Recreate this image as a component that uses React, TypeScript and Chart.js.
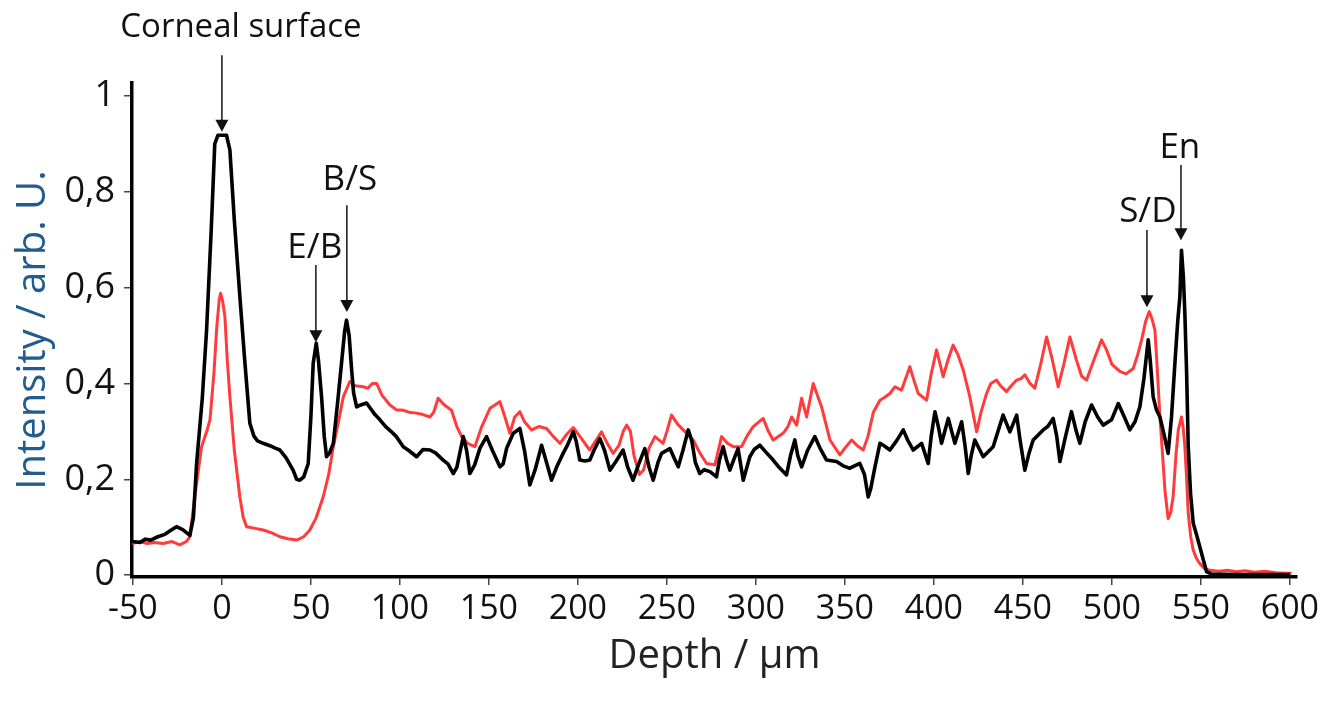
import React, { useEffect, useRef } from "react";
import { Chart, registerables } from "chart.js";

Chart.register(...registerables);

// ---- Data ----
const blackDepth = [
  -50.5, -46, -43, -40, -36, -32, -28, -25.5, -22, -18, -16, -14.2, -11, -8.6, -6, -4, -2.2, 2.6, 4.5, 7,
  10.1, 13, 15.7, 18, 20, 23.2, 27, 30, 32.6, 36, 40, 42, 43.8, 46, 48.5, 50, 51.3, 53, 54.2, 56,
  57.5, 58.8, 60.5, 62.6, 65, 67.2, 69, 70, 71.5, 72.9, 74, 75.7, 78, 81.3, 84, 86, 88.8, 92, 95, 98,
  101.9, 105, 109.4, 113, 116.9, 120, 124.3, 127, 130, 132, 135.6, 137.5, 139.3, 142, 145, 148.7, 152, 156.2, 158, 160,
  163.7, 167.4, 170, 173, 176, 179.6, 182, 185.2, 188, 191.7, 194, 197.4, 199, 201.1, 204, 206.7, 209, 212.4, 215, 218,
  221, 225.4, 228, 231, 234, 237.6, 240, 242.3, 245, 247, 251.7, 254, 256.4, 259, 262, 264, 266, 268.5, 271, 274.2,
  277.9, 279.5, 281.6, 283.5, 285.4, 288, 290, 292.9, 296.6, 299, 302.2, 306, 309.7, 313, 317.2, 319.5, 321.9, 323.5, 325.7, 329,
  333.1, 336, 339.7, 345.3, 349, 352.8, 358.4, 361, 363.1, 364.5, 366.9, 369.7, 372, 375.3, 379, 382.8, 385.5, 388.4, 393.1, 396.8,
  398.5, 400.6, 402.5, 404.3, 408.1, 410, 411.8, 415.6, 417.5, 419.3, 421, 423, 427.7, 433.3, 436, 438.9, 442.7, 446.5, 448.5, 451.1,
  453.5, 455.8, 461.4, 464, 467, 469, 470.8, 474, 477.3, 480, 482, 485, 488.6, 492, 495.1, 499.8, 503.6, 507, 510.1, 513,
  515.7, 518, 520.4, 521.5, 523.2, 525, 527, 529.5, 531.6, 533.5, 535.4, 537, 538.2, 539.1, 540.2, 541, 542, 542.9, 544.2, 545.7,
  547.5, 549.4, 551.5, 553.2, 556, 570, 585, 600,
];
const blackIntensity = [
  0.07, 0.068, 0.075, 0.073, 0.08, 0.085, 0.095, 0.101, 0.095, 0.083, 0.12, 0.233, 0.37, 0.511, 0.72, 0.9, 0.918, 0.918, 0.887, 0.74,
  0.581, 0.44, 0.317, 0.29, 0.28, 0.275, 0.27, 0.265, 0.261, 0.245, 0.219, 0.2, 0.198, 0.205, 0.233, 0.33, 0.442, 0.484, 0.45, 0.372,
  0.29, 0.247, 0.255, 0.275, 0.36, 0.442, 0.51, 0.532, 0.5, 0.428, 0.38, 0.351, 0.355, 0.359, 0.345, 0.335, 0.324, 0.31, 0.3, 0.289,
  0.268, 0.26, 0.247, 0.262, 0.261, 0.255, 0.24, 0.232, 0.212, 0.225, 0.289, 0.26, 0.212, 0.23, 0.265, 0.289, 0.26, 0.226, 0.232, 0.265,
  0.296, 0.306, 0.26, 0.188, 0.22, 0.271, 0.24, 0.198, 0.225, 0.254, 0.27, 0.299, 0.28, 0.24, 0.238, 0.24, 0.26, 0.285, 0.26, 0.219,
  0.235, 0.261, 0.225, 0.198, 0.23, 0.264, 0.225, 0.198, 0.235, 0.254, 0.264, 0.245, 0.226, 0.26, 0.303, 0.28, 0.235, 0.212, 0.22, 0.216,
  0.205, 0.24, 0.268, 0.24, 0.219, 0.245, 0.264, 0.198, 0.247, 0.262, 0.271, 0.255, 0.24, 0.225, 0.209, 0.25, 0.282, 0.25, 0.226, 0.26,
  0.289, 0.265, 0.24, 0.237, 0.228, 0.223, 0.233, 0.21, 0.163, 0.18, 0.226, 0.275, 0.27, 0.261, 0.28, 0.303, 0.28, 0.261, 0.275, 0.233,
  0.29, 0.341, 0.31, 0.275, 0.327, 0.3, 0.275, 0.32, 0.27, 0.212, 0.25, 0.282, 0.247, 0.268, 0.3, 0.334, 0.299, 0.334, 0.28, 0.219,
  0.255, 0.282, 0.303, 0.31, 0.327, 0.29, 0.237, 0.29, 0.341, 0.3, 0.275, 0.32, 0.355, 0.33, 0.313, 0.324, 0.358, 0.33, 0.303, 0.32,
  0.351, 0.41, 0.491, 0.45, 0.372, 0.345, 0.33, 0.29, 0.254, 0.33, 0.442, 0.53, 0.581, 0.678, 0.62, 0.546, 0.42, 0.268, 0.17, 0.108,
  0.085, 0.059, 0.03, 0.007, 0.002, 0.001, 0.001, 0.001,
];
const redDepth = [
  -50.5, -46, -42, -38, -33, -28, -23.6, -20, -18, -15, -11.4, -8.5, -6.7, -4.5, -3, -1.5, -0.7, 0.5, 1.7, 3,
  4.5, 7, 10.1, 12, 13.9, 18, 23.2, 28, 32.6, 37, 42, 46, 49.4, 53, 56.9, 60, 62.6, 65.5, 68.2, 71.9,
  75, 79.4, 82, 84.5, 86.9, 90, 94.4, 98, 101.9, 105, 109.4, 113, 116.9, 119, 121.5, 125, 129, 132, 134.7, 138,
  142.1, 146, 150.6, 156.2, 159, 161.8, 164.5, 167.4, 170, 174, 178, 182.4, 186, 189.9, 194, 197.4, 201, 206.7, 210, 213.3,
  216.5, 219.8, 223, 225.5, 227.4, 229.5, 231.5, 234.5, 237, 240, 243.3, 247.9, 250, 252.6, 256, 259.2, 264.8, 268.5, 272.3, 277,
  280.7, 284, 287.3, 292, 295, 298.5, 304.1, 307, 309.7, 315.3, 318, 320.1, 322.9, 325.7, 328.5, 332.2, 336.9, 341.6, 347.2, 350,
  353.8, 357, 360.3, 363, 366, 369.7, 372, 375.3, 378.1, 381.8, 386.5, 388.5, 391.2, 395.9, 398.5, 401.5, 403.5, 405.2, 408, 410.8,
  413.5, 416.5, 420.2, 424, 426.5, 429.6, 432, 435.2, 437.5, 440.8, 443.5, 446.5, 449, 451.1, 454, 456.7, 460, 463.3, 466.5, 469.8,
  473, 476.4, 480, 483, 485.8, 490, 494.2, 497, 500, 504.5, 508, 512, 514.5, 516.7, 519, 521, 522.5, 524.2, 525.5, 527,
  528.5, 529.8, 531.6, 533, 534.4, 536, 537.3, 539.1, 540, 541, 542, 542.9, 544.3, 545.7, 547.5, 549.4, 552, 555, 560, 565,
  570, 575, 580, 586, 592, 597.2, 601,
];
const redIntensity = [
  0.066, 0.07, 0.066, 0.068, 0.066, 0.07, 0.063, 0.07, 0.08, 0.17, 0.268, 0.3, 0.324, 0.42, 0.511, 0.575, 0.588, 0.57, 0.539, 0.45,
  0.372, 0.26, 0.163, 0.12, 0.101, 0.098, 0.094, 0.088, 0.08, 0.076, 0.073, 0.08, 0.094, 0.12, 0.163, 0.21, 0.268, 0.32, 0.372, 0.404,
  0.395, 0.393, 0.39, 0.4, 0.4, 0.375, 0.355, 0.345, 0.344, 0.34, 0.338, 0.335, 0.33, 0.34, 0.369, 0.355, 0.344, 0.31, 0.289, 0.275,
  0.268, 0.31, 0.348, 0.362, 0.33, 0.296, 0.33, 0.341, 0.32, 0.303, 0.31, 0.306, 0.29, 0.275, 0.295, 0.308, 0.29, 0.261, 0.28, 0.299,
  0.275, 0.254, 0.27, 0.3, 0.313, 0.3, 0.25, 0.21, 0.22, 0.265, 0.289, 0.275, 0.3, 0.334, 0.315, 0.303, 0.282, 0.255, 0.233, 0.23,
  0.289, 0.275, 0.268, 0.268, 0.29, 0.31, 0.327, 0.3, 0.282, 0.296, 0.31, 0.33, 0.313, 0.369, 0.33, 0.4, 0.351, 0.282, 0.251, 0.265,
  0.282, 0.27, 0.261, 0.29, 0.34, 0.365, 0.37, 0.379, 0.393, 0.386, 0.435, 0.41, 0.379, 0.365, 0.42, 0.47, 0.44, 0.414, 0.45, 0.48,
  0.46, 0.428, 0.372, 0.299, 0.34, 0.379, 0.4, 0.407, 0.395, 0.383, 0.395, 0.407, 0.41, 0.418, 0.4, 0.39, 0.44, 0.497, 0.45, 0.393,
  0.44, 0.497, 0.45, 0.415, 0.407, 0.45, 0.491, 0.47, 0.44, 0.425, 0.42, 0.431, 0.46, 0.491, 0.53, 0.55, 0.535, 0.511, 0.43, 0.33,
  0.25, 0.177, 0.118, 0.13, 0.163, 0.25, 0.303, 0.33, 0.31, 0.268, 0.2, 0.129, 0.08, 0.052, 0.035, 0.024, 0.014, 0.01, 0.008, 0.01,
  0.007, 0.009, 0.006, 0.008, 0.005, 0.004, 0.004,
];

const xTickValues = [-50, 0, 50, 100, 150, 200, 250, 300, 350, 400, 450, 500, 550, 600];
const yTickValues = [0, 0.2, 0.4, 0.6, 0.8, 1];
const yTickLabels = ["0", "0,2", "0,4", "0,6", "0,8", "1"];

// Annotation arrows: label, arrow depth, arrow tip / tail intensity, label depth / intensity
const annotationLabels = ["Corneal surface", "E/B", "B/S", "S/D", "En"];
const annotationDepths = [0, 52.8, 70.2, 519.7, 538.8];
const annotationTips = [0.925, 0.486, 0.549, 0.559, 0.699];
const annotationTails = [1.085, 0.647, 0.772, 0.72, 0.856];
const annotationLabelDepths = [10.7, 52.2, 71.9, 520.2, 538.2];
const annotationLabelValues = [1.142, 0.683, 0.824, 0.758, 0.891];

const FONT = '"Open Sans", "Noto Sans", sans-serif';

const arrowPlugin = {
  id: "arrowAnnotations",
  afterDraw(chart: any) {
    const { ctx } = chart;
    const xs = chart.scales.x;
    const ys = chart.scales.y;
    ctx.save();
    annotationLabels.forEach((label, i) => {
      const px = xs.getPixelForValue(annotationDepths[i]);
      const tip = ys.getPixelForValue(annotationTips[i]);
      const tail = ys.getPixelForValue(annotationTails[i]);
      ctx.strokeStyle = "#222";
      ctx.lineWidth = 1.6;
      ctx.beginPath();
      ctx.moveTo(px, tail);
      ctx.lineTo(px, tip - 10);
      ctx.stroke();
      ctx.fillStyle = "#111";
      ctx.beginPath();
      ctx.moveTo(px - 6.5, tip - 12);
      ctx.lineTo(px + 6.5, tip - 12);
      ctx.lineTo(px, tip);
      ctx.closePath();
      ctx.fill();
      ctx.font = `${i === 0 ? 33 : 35}px ${FONT}`;
      ctx.textAlign = "center";
      ctx.textBaseline = "middle";
      ctx.fillStyle = "#111";
      ctx.fillText(
        label,
        xs.getPixelForValue(annotationLabelDepths[i]),
        ys.getPixelForValue(annotationLabelValues[i])
      );
    });
    ctx.restore();
  },
};

export default function App() {
  const canvasRef = useRef<HTMLCanvasElement | null>(null);

  useEffect(() => {
    if (!canvasRef.current) return;
    const blackData = blackDepth.map((d, i) => ({ x: d, y: blackIntensity[i] }));
    const redData = redDepth.map((d, i) => ({ x: d, y: redIntensity[i] }));

    const chart = new Chart(canvasRef.current, {
      type: "line",
      data: {
        datasets: [
          {
            label: "black",
            data: blackData,
            borderColor: "#000000",
            borderWidth: 3.6,
            pointRadius: 0,
            tension: 0,
            fill: false,
            borderJoinStyle: "round",
          },
          {
            label: "red",
            data: redData,
            borderColor: "#ff3b3b",
            borderWidth: 3,
            pointRadius: 0,
            tension: 0,
            fill: false,
            borderJoinStyle: "round",
          },
        ],
      },
      options: {
        responsive: false,
        animation: false,
        events: [],
        layout: { padding: { top: 83, right: 42, left: 0, bottom: 0 } },
        plugins: {
          legend: { display: false },
          tooltip: { enabled: false },
        },
        scales: {
          x: {
            type: "linear",
            min: -50.5,
            max: 604,
            afterBuildTicks: (scale: any) => {
              scale.ticks = xTickValues.map((v) => ({ value: v }));
            },
            afterFit: (scale: any) => {
              scale.height = 132;
            },
            ticks: {
              autoSkip: false,
              maxRotation: 0,
              color: "#111",
              padding: 4,
              font: { size: 34, family: FONT },
              callback: (v: any) => String(v),
            },
            grid: {
              display: true,
              drawOnChartArea: false,
              drawTicks: true,
              tickLength: 8,
              color: "#444",
              lineWidth: 1.5,
            },
            border: { display: true, color: "#000", width: 3.5 },
            title: {
              display: true,
              text: "Depth / µm",
              color: "#222",
              font: { size: 40, family: FONT },
              padding: { top: 0, bottom: 28 },
            },
          },
          y: {
            type: "linear",
            min: -0.004,
            max: 1.027,
            afterBuildTicks: (scale: any) => {
              scale.ticks = yTickValues.map((v) => ({ value: v }));
            },
            afterFit: (scale: any) => {
              scale.width = 132;
            },
            ticks: {
              autoSkip: false,
              color: "#111",
              padding: 9,
              font: { size: 36, family: FONT },
              callback: (v: any) => {
                const idx = yTickValues.findIndex((t) => Math.abs(t - Number(v)) < 1e-6);
                return idx >= 0 ? yTickLabels[idx] : "";
              },
            },
            grid: {
              display: true,
              drawOnChartArea: false,
              drawTicks: true,
              tickLength: 8,
              color: "#444",
              lineWidth: 1.5,
            },
            border: { display: true, color: "#000", width: 3.5 },
            title: {
              display: true,
              text: "Intensity / arb. U.",
              color: "#225b8e",
              font: { size: 40, family: FONT },
              padding: { top: 10, bottom: 0 },
            },
          },
        },
      },
      plugins: [arrowPlugin],
    });
    return () => chart.destroy();
  }, []);

  return (
    <div style={{ position: "fixed", left: 0, top: 0, width: 1339, height: 709, background: "#fff" }}>
      <canvas ref={canvasRef} width={1339} height={709} style={{ display: "block" }} />
    </div>
  );
}
